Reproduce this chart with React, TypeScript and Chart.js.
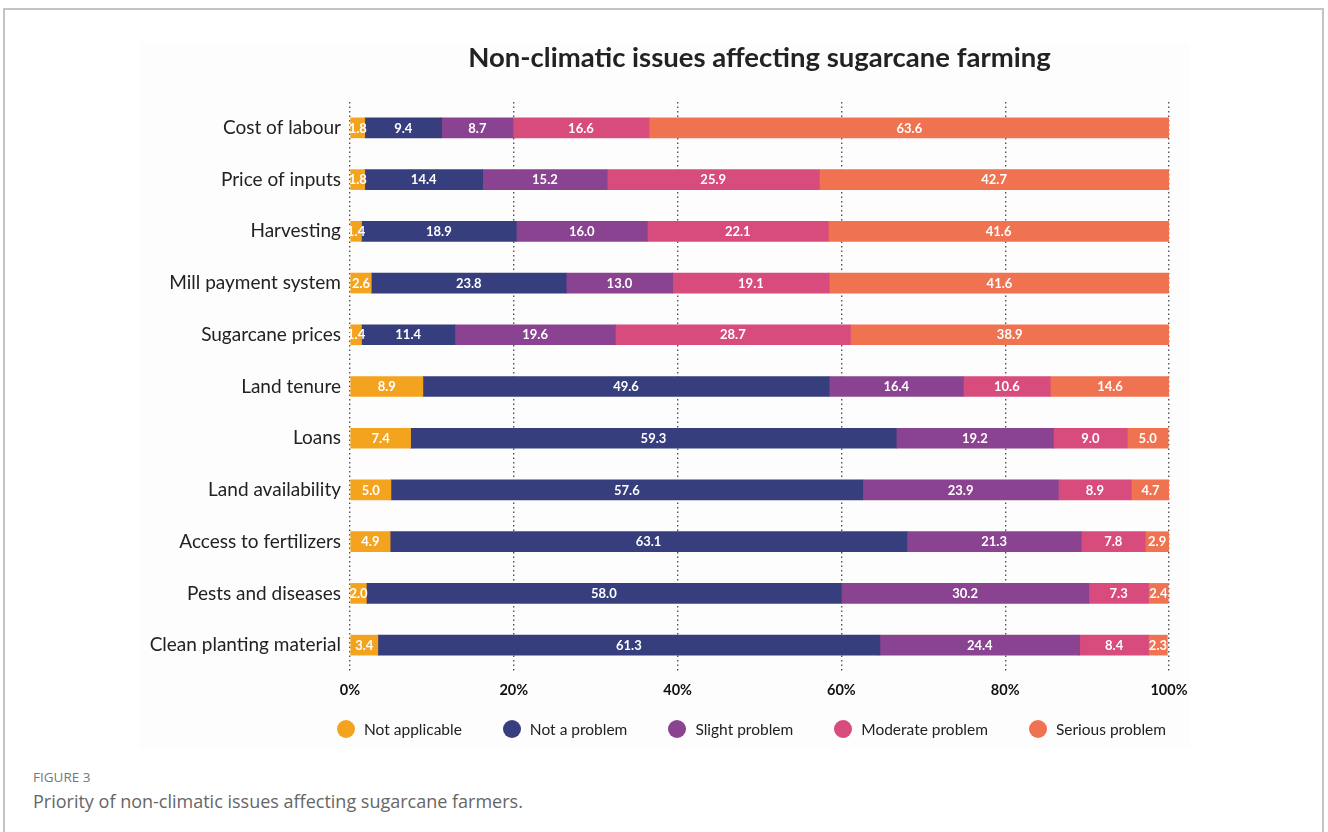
import React, { useEffect, useRef } from "react";
import { Chart, registerables } from "chart.js";
Chart.register(...registerables);

const categories = [
  "Cost of labour",
  "Price of inputs",
  "Harvesting",
  "Mill payment system",
  "Sugarcane prices",
  "Land tenure",
  "Loans",
  "Land availability",
  "Access to fertilizers",
  "Pests and diseases",
  "Clean planting material",
];
const seriesNames = ["Not applicable", "Not a problem", "Slight problem", "Moderate problem", "Serious problem"];
const seriesColors = ["#F4A31F", "#363E7E", "#8A4390", "#D74B7D", "#EF7251"];
const notApplicable = [1.8, 1.8, 1.4, 2.6, 1.4, 8.9, 7.4, 5.0, 4.9, 2.0, 3.4];
const notAProblem = [9.4, 14.4, 18.9, 23.8, 11.4, 49.6, 59.3, 57.6, 63.1, 58.0, 61.3];
const slightProblem = [8.7, 15.2, 16.0, 13.0, 19.6, 16.4, 19.2, 23.9, 21.3, 30.2, 24.4];
const moderateProblem = [16.6, 25.9, 22.1, 19.1, 28.7, 10.6, 9.0, 8.9, 7.8, 7.3, 8.4];
const seriousProblem = [63.6, 42.7, 41.6, 41.6, 38.9, 14.6, 5.0, 4.7, 2.9, 2.4, 2.3];
const seriesValues = [notApplicable, notAProblem, slightProblem, moderateProblem, seriousProblem];
const xTickValues = [0, 20, 40, 60, 80, 100];

const titleText = "Non-climatic issues affecting sugarcane farming";
const FONT = "Lato, 'Open Sans', sans-serif";

const segmentLabels = {
  id: "segmentLabels",
  afterDatasetsDraw(chart: any) {
    const ctx = chart.ctx;
    ctx.save();
    ctx.font = `bold 13px ${FONT}`;
    ctx.fillStyle = "#ffffff";
    ctx.textAlign = "center";
    ctx.textBaseline = "middle";
    chart.data.datasets.forEach((ds: any, di: number) => {
      const meta = chart.getDatasetMeta(di);
      meta.data.forEach((bar: any, i: number) => {
        const v = ds.data[i];
        const cx = (bar.x + bar.base) / 2;
        ctx.fillText(Number(v).toFixed(1), cx, bar.y + 0.5);
      });
    });
    ctx.restore();
  },
};

export default function App() {
  const ref = useRef<HTMLCanvasElement>(null);
  useEffect(() => {
    if (!ref.current) return;
    const chart = new Chart(ref.current, {
      type: "bar",
      data: {
        labels: categories,
        datasets: seriesNames.map((name, i) => ({
          label: name,
          data: seriesValues[i],
          backgroundColor: seriesColors[i],
          borderWidth: 0,
          barThickness: 20,
        })),
      },
      plugins: [segmentLabels],
      options: {
        indexAxis: "y",
        animation: false,
        responsive: false,
        maintainAspectRatio: false,
        layout: { padding: { left: 0, right: 159, top: 0, bottom: 0 } },
        plugins: {
          legend: { display: false },
          tooltip: { enabled: false },
          title: {
            display: true,
            fullSize: false,
            text: titleText,
            color: "#222222",
            font: { family: FONT, size: 27.5, weight: "bold" },
            padding: { top: 42, bottom: 27 },
            align: "center",
          },
        },
        scales: {
          x: {
            stacked: true,
            min: 0,
            max: 100,
            afterBuildTicks(scale: any) {
              scale.ticks = xTickValues.map((v) => ({ value: v }));
            },
            afterFit(scale: any) {
              scale.height = 89;
            },
            grid: {
              display: true,
              color: "#555555",
              lineWidth: 1.4,
              drawTicks: false,
            } as any,
            border: { display: false, dash: [1.5, 3] },
            ticks: {
              color: "#111111",
              padding: 11,
              font: { family: FONT, size: 14.5, weight: "bold" },
              callback: (v: any) => `${v}%`,
              maxRotation: 0,
            },
          },
          y: {
            stacked: true,
            afterFit(scale: any) {
              scale.width = 350;
            },
            grid: { display: false, drawTicks: false },
            border: { display: false },
            ticks: {
              color: "#222222",
              padding: 9,
              font: { family: FONT, size: 19 },
            },
          },
        },
      } as any,
    });
    return () => chart.destroy();
  }, []);

  return (
    <div style={{ position: "fixed", left: 0, top: 0, width: 1328, height: 832, overflow: "hidden", background: "#fff" }}>
      <div
        style={{
          position: "absolute",
          left: 3,
          top: 8,
          width: 1321,
          height: 900,
          border: "2px solid #c4c4c4",
          boxSizing: "border-box",
        }}
      />
      <div style={{ position: "absolute", left: 140, top: 43, width: 1050, height: 705, background: "#fdfdfd" }} />
      <canvas ref={ref} width={1328} height={760} style={{ position: "absolute", left: 0, top: 0, width: 1328, height: 760 }} />
      <div
        style={{
          position: "absolute",
          left: 337,
          top: 720,
          display: "flex",
          alignItems: "center",
          fontFamily: FONT,
          fontSize: 15.5,
          color: "#222",
        }}
      >
        {seriesNames.map((n, i) => (
          <div key={n} style={{ display: "flex", alignItems: "center", marginRight: 41 }}>
            <span
              style={{
                width: 18,
                height: 18,
                borderRadius: "50%",
                background: seriesColors[i],
                display: "inline-block",
                marginRight: 9,
              }}
            />
            <span>{n}</span>
          </div>
        ))}
      </div>
      <div
        style={{
          position: "absolute",
          left: 33,
          top: 768,
          fontFamily: "'Open Sans', sans-serif",
          fontSize: 13.5,
          color: "#777",
        }}
      >
        FIGURE 3
      </div>
      <div
        style={{
          position: "absolute",
          left: 33,
          top: 789,
          fontFamily: "'Open Sans', sans-serif",
          fontSize: 18,
          color: "#666",
        }}
      >
        Priority of non-climatic issues affecting sugarcane farmers.
      </div>
    </div>
  );
}
